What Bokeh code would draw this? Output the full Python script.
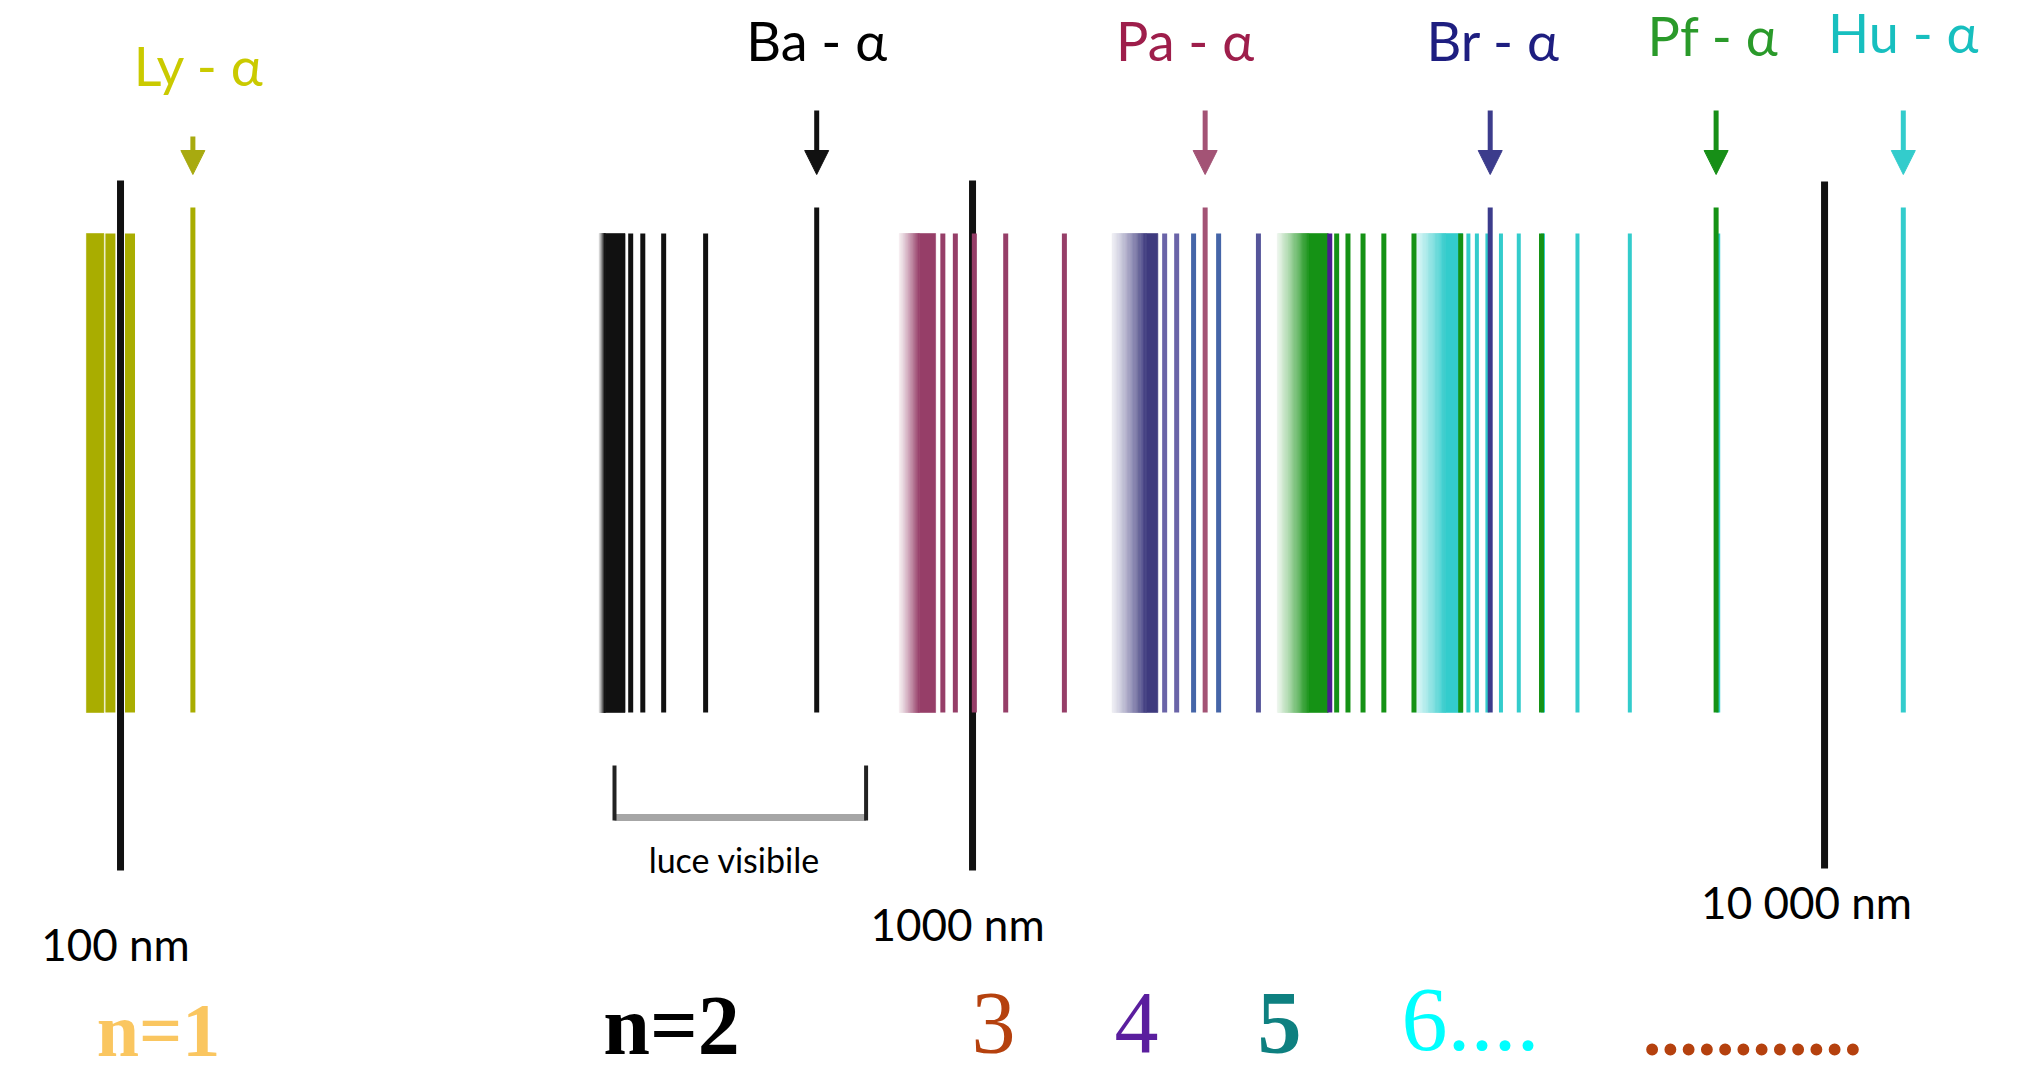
import numpy as np
from bokeh.plotting import figure
from bokeh.models import Range1d, LinearScale, Arrow, NormalHead, ColumnDataSource
from bokeh.core.properties import value
from bokeh.embed import file_html
from bokeh.resources import INLINE

# ---------------- data (wavelengths in nm) ----------------
series_labels = ["Ly - α", "Ba - α", "Pa - α", "Br - α", "Pf - α", "Hu - α"]
alpha_nm = [121.6, 656.3, 1875.1, 4051.2, 7459.9, 12371.9]
ly_lines = [102.6, 97.3]
ba_lines = [486.1, 434.0, 410.2, 397.0]
pa_lines = [1281.8, 1093.8, 1004.9, 954.6, 922.9]
br_lines = [2625.9, 2165.5, 1944.6, 1817.4, 1736.2, 1680.7]
pf_lines = [4653.8, 3740.6, 3297.0, 3039.2, 2873.0, 2758.3, 2675.3]
hu_lines = [7502.5, 5908.2, 5128.7, 4672.5, 4376.4, 4170.7, 4020.9, 3908.0, 3819.4]
band_start = [91.2, 364.6, 820.4, 1458.0, 2279.0, 3282.0]
band_solid = [91.2, 370.5, 866.0, 1600.0, 2480.0, 3590.0]
band_end = [95.6, 391.0, 905.0, 1650.0, 2615.0, 3760.0]
ref_nm = [100, 1000, 10000]
ref_labels = ["100 nm", "1000 nm", "10 000 nm"]
visible_nm = [380, 750]
visible_label = "luce visibile"
level_labels = ["n=1", "n=2", "3", "4", "5", "6....", "............"]

# ---------------- styles ----------------
label_colors = ["#CACA00", "#000000", "#9E1E4B", "#1E1E80", "#2A9A2A", "#17BFBF"]
line_colors = ["#A9AD00", "#111111", "#963E68", "#3E3A7E", "#159215", "#33CCCC"]
arrow_colors = ["#A8AA10", "#111111", "#A35375", "#3C3C8C", "#178F17", "#33CCCC"]
br_line_colors = ["#4B1E8E", "#55559A", "#4565A8", "#4565A8", "#6A64A8", "#6A64A8"]
FONT = "Lato"
SANS_SHIFT = 0.40   # baseline correction (fraction of font size)
SERIF_SHIFT = 0.36

W, H = 2029, 1075
p = figure(width=W, height=H, x_axis_type="log",
           x_range=Range1d(72.30, 17400.0), y_range=Range1d(H, 0),
           output_backend="svg", toolbar_location=None, min_border=0,
           x_axis_location=None, y_axis_location=None,
           outline_line_color=None, background_fill_color="white",
           border_fill_color="white")
p.xgrid.visible = False
p.ygrid.visible = False
p.extra_x_ranges = {"px": Range1d(0, W)}
p.extra_x_scales = {"px": LinearScale()}

LINE_TOP, LINE_BOT, ALPHA_TOP = 233, 712, 207


def blend(hexc, a):
    c = np.array([int(hexc[i:i + 2], 16) for i in (1, 3, 5)], dtype=float)
    m = 255 * (1 - a) + c * a
    return "#%02x%02x%02x" % tuple(int(round(v)) for v in m)


def draw_band(k):
    s, so, e, col = band_start[k], band_solid[k], band_end[k], line_colors[k]
    left, right, colors = [], [], []
    n = 28
    if so > s:
        edges = s * (so / s) ** (np.arange(n + 1) / n)
        for i in range(n):
            t = (i + 0.5) / n
            left.append(edges[i]); right.append(edges[i + 1])
            colors.append(blend(col, 0.08 + 0.92 * t ** 1.2))
    left.append(so); right.append(e); colors.append(col)
    p.quad(left=left, right=right, top=LINE_TOP, bottom=LINE_BOT,
           fill_color=colors, line_color=colors, line_width=0.6)


def draw_lines(k, lines, colors=None, width=5, alpha_width=5):
    cols = colors if colors is not None else [line_colors[k]] * len(lines)
    p.segment(x0=lines, x1=lines, y0=[LINE_TOP] * len(lines), y1=[LINE_BOT] * len(lines),
              line_color=cols, line_width=width)
    p.segment(x0=[alpha_nm[k]], x1=[alpha_nm[k]], y0=[ALPHA_TOP], y1=[LINE_BOT],
              line_color=arrow_colors[k] if k in (2, 3) else line_colors[k],
              line_width=alpha_width)


# Lyman
draw_band(0)
draw_lines(0, ly_lines, width=10, alpha_width=5)

# reference black marks
p.segment(x0=ref_nm, x1=ref_nm, y0=[180, 180, 181], y1=[870, 870, 868],
          line_color="#111111", line_width=7)

# other series, back to front
draw_band(5); draw_lines(5, hu_lines, width=4)
draw_band(4); draw_lines(4, pf_lines, width=5)
draw_band(3); draw_lines(3, br_lines, colors=br_line_colors, width=5)
draw_band(2); draw_lines(2, pa_lines, width=5)
draw_band(1); draw_lines(1, ba_lines, width=5)

# arrows above alpha lines
for k, nm in enumerate(alpha_nm):
    c = arrow_colors[k]
    p.add_layout(Arrow(end=NormalHead(size=24, fill_color=c, line_color=c, line_width=1),
                       x_start=nm, y_start=136 if k == 0 else 110,
                       x_end=nm, y_end=174, line_color=c, line_width=5))

# series labels
lab_size = 54
lab_src = ColumnDataSource(dict(x=alpha_nm,
                                y=[b - SANS_SHIFT * lab_size for b in [87, 62, 62, 62, 57, 54]],
                                text=series_labels, color=label_colors,
                                dx=[6, 0, -20, 3, -3, 0]))
p.text(x="x", y="y", text="text", text_color="color", x_offset="dx", source=lab_src,
       text_font=value(FONT), text_font_size=f"{lab_size}px", text_align="center",
       text_baseline="alphabetic")

# reference labels
ref_size = 44
ref_src = ColumnDataSource(dict(x=ref_nm,
                                y=[b - SANS_SHIFT * ref_size for b in [961, 941, 919]],
                                text=ref_labels, dx=[-5, -15, -18]))
p.text(x="x", y="y", text="text", x_offset="dx", source=ref_src, text_color="#000000",
       text_font=value(FONT), text_font_size=f"{ref_size}px", text_align="center",
       text_baseline="alphabetic")

# visible light bracket
p.segment(x0=[visible_nm[0]], x1=[visible_nm[1]], y0=[817], y1=[817],
          line_color="#A6A6A6", line_width=7)
p.segment(x0=visible_nm, x1=visible_nm, y0=[765, 765], y1=[820, 820],
          line_color="#222222", line_width=4)
vis_size = 34
p.text(x=[np.sqrt(visible_nm[0] * visible_nm[1])], y=[873 - SANS_SHIFT * vis_size],
       text=[visible_label], x_offset=-6,
       text_color="#000000", text_font=value(FONT), text_font_size=f"{vis_size}px",
       text_align="center", text_baseline="alphabetic")

# energy level labels (bottom row), positioned in page pixels
lev_x = [158, 671, 993, 1136, 1279, 1470, 1752]
lev_base = [1057, 1055, 1054, 1054, 1054, 1053, 1056]
lev_col = ["#FAC660", "#000000", "#B5410E", "#5A1E9E", "#0E8080", "#00FFFF", "#B5410E"]
lev_size = [76, 84, 88, 88, 88, 92, 73]
lev_style = ["bold", "bold", "normal", "normal", "bold", "normal", "bold"]
for i, t in enumerate(level_labels):
    p.text(x=[lev_x[i]], y=[lev_base[i] - SERIF_SHIFT * lev_size[i]], text=[t],
           x_range_name="px",
           text_color=lev_col[i], text_font=value("Liberation Serif"),
           text_font_size=f"{lev_size[i]}px", text_font_style=lev_style[i],
           text_align="center", text_baseline="alphabetic")

open("out.html", "w").write(file_html(p, INLINE))
